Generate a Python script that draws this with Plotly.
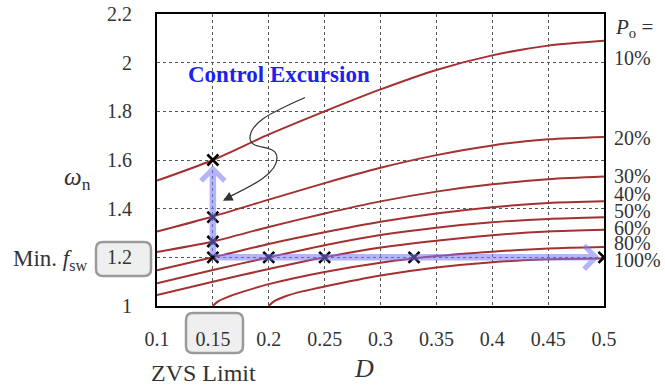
import plotly.graph_objects as go

# ---------------- data ----------------
D_FULL = [0.10, 0.15, 0.20, 0.25, 0.30, 0.35, 0.40, 0.45, 0.50]
wn_10 = [1.515, 1.60, 1.705, 1.80, 1.89, 1.97, 2.03, 2.07, 2.09]
wn_20 = [1.306, 1.368, 1.437, 1.505, 1.568, 1.62, 1.66, 1.685, 1.695]
wn_30 = [1.222, 1.265, 1.325, 1.38, 1.43, 1.47, 1.50, 1.521, 1.532]
wn_40 = [1.147, 1.20, 1.255, 1.303, 1.346, 1.38, 1.406, 1.423, 1.430]
wn_50 = [1.093, 1.148, 1.20, 1.25, 1.292, 1.322, 1.344, 1.358, 1.365]
wn_60 = [1.045, 1.10, 1.152, 1.20, 1.240, 1.268, 1.291, 1.306, 1.313]
D_80 = [0.15, 0.155, 0.165, 0.18, 0.20, 0.25, 0.30, 0.35, 0.40, 0.45, 0.50]
wn_80 = [1.0, 1.02, 1.04, 1.063, 1.09, 1.14, 1.178, 1.205, 1.223, 1.236, 1.242]
D_100 = [0.20, 0.205, 0.215, 0.23, 0.25, 0.30, 0.35, 0.40, 0.45, 0.50]
wn_100 = [1.0, 1.02, 1.04, 1.06, 1.08, 1.125, 1.158, 1.18, 1.192, 1.195]

curves = [
    (D_FULL, wn_10), (D_FULL, wn_20), (D_FULL, wn_30), (D_FULL, wn_40),
    (D_FULL, wn_50), (D_FULL, wn_60), (D_80, wn_80), (D_100, wn_100),
]

mark_D = [0.15, 0.15, 0.15, 0.15, 0.20, 0.25, 0.33, 0.50]
mark_wn = [1.60, 1.365, 1.265, 1.20, 1.20, 1.20, 1.20, 1.20]

x_ticks = [0.1, 0.15, 0.2, 0.25, 0.3, 0.35, 0.4, 0.45, 0.5]
x_ticktext = ["0.1", "0.15", "0.2", "0.25", "0.3", "0.35", "0.4", "0.45", "0.5"]
y_ticks = [1, 1.2, 1.4, 1.6, 1.8, 2, 2.2]
y_ticktext = ["1", "1.2", "1.4", "1.6", "1.8", "2", "2.2"]

po_labels = ["10%", "20%", "30%", "40%", "50%", "60%", "80%", "100%"]
po_label_y = [2.02, 1.69, 1.535, 1.461, 1.392, 1.322, 1.257, 1.188]

# ---------------- layout constants ----------------
W, H = 665, 389
ML, MR, MT, MB = 157, 61, 14, 83
PW, PH = W - ML - MR, H - MT - MB
SERIF = "Liberation Serif"
RED = "#a33131"
TXT = "#333333"


def px(x):
    return (x - ML) / PW


def py(y):
    return (H - MB - y) / PH


def rounded_box(x0, y0, x1, y1, r):
    pts = [
        ("M", [(x0 + r, y0)]), ("L", [(x1 - r, y0)]), ("Q", [(x1, y0), (x1, y0 + r)]),
        ("L", [(x1, y1 - r)]), ("Q", [(x1, y1), (x1 - r, y1)]), ("L", [(x0 + r, y1)]),
        ("Q", [(x0, y1), (x0, y1 - r)]), ("L", [(x0, y0 + r)]), ("Q", [(x0, y0), (x0 + r, y0)]),
    ]
    s = ""
    for cmd, ps in pts:
        s += cmd + " " + " ".join(f"{px(a):.5f},{py(b):.5f}" for a, b in ps) + " "
    return s + "Z"


fig = go.Figure()

for xs, ys in curves:
    fig.add_trace(go.Scatter(x=xs, y=ys, mode="lines",
                             line=dict(color=RED, width=2, shape="spline", smoothing=0.8),
                             hoverinfo="skip", showlegend=False))

fig.add_trace(go.Scatter(x=mark_D, y=mark_wn, mode="markers",
                         marker=dict(symbol="x-thin", size=11,
                                     line=dict(color="black", width=2.6)),
                         showlegend=False))

shapes = [
    dict(type="path", xref="paper", yref="paper", layer="below",
         path=rounded_box(96, 242, 151, 276, 7),
         fillcolor="#efefef", line=dict(color="#9a9a9a", width=2.5)),
    dict(type="path", xref="paper", yref="paper", layer="below",
         path=rounded_box(186, 313, 243, 353, 7),
         fillcolor="#efefef", line=dict(color="#9a9a9a", width=2.5)),
    # S-shaped pointer line
    dict(type="path", xref="x", yref="y",
         path="M 0.2324,1.857 C 0.2056,1.80 0.1832,1.759 0.1832,1.690 "
              "C 0.1832,1.637 0.2074,1.669 0.2074,1.608 "
              "C 0.2074,1.535 0.1787,1.482 0.1600,1.438",
         line=dict(color="#333333", width=1.2)),
]

annotations = [
    # blue control excursion arrows
    dict(x=0.15, y=1.578, ax=0.15, ay=1.2, xref="x", yref="y", axref="x", ayref="y",
         text="", showarrow=True, arrowhead=4, arrowwidth=6.5, arrowsize=0.7,
         arrowcolor="rgba(120,120,250,0.55)"),
    dict(x=0.496, y=1.2, ax=0.15, ay=1.2, xref="x", yref="y", axref="x", ayref="y",
         text="", showarrow=True, arrowhead=4, arrowwidth=6.5, arrowsize=0.7,
         arrowcolor="rgba(120,120,250,0.55)"),
    # head of the pointer
    dict(x=0.1591, y=1.433, ax=0.1653, ay=1.448, xref="x", yref="y", axref="x", ayref="y",
         text="", showarrow=True, arrowhead=2, arrowwidth=1.2, arrowsize=1.6,
         arrowcolor="#333333"),
    dict(x=px(279), y=py(75), xref="paper", yref="paper", text="<b>Control Excursion</b>",
         showarrow=False, font=dict(family=SERIF, size=23, color="#1f1ff0"),
         xanchor="center", yanchor="middle"),
    dict(x=px(613), y=py(28), xref="paper", yref="paper",
         text="<i>P</i><sub>o</sub> =", showarrow=False,
         font=dict(family=SERIF, size=21, color=TXT), xanchor="left", yanchor="middle"),
    dict(x=px(77), y=py(179), xref="paper", yref="paper",
         text="<i>ω</i><sub>n</sub>", showarrow=False,
         font=dict(family=SERIF, size=25, color=TXT), xanchor="center", yanchor="middle"),
    dict(x=px(89), y=py(260), xref="paper", yref="paper",
         text="Min. <i>f</i><sub>sw</sub>", showarrow=False,
         font=dict(family=SERIF, size=23, color=TXT), xanchor="right", yanchor="middle"),
    dict(x=px(203), y=py(373), xref="paper", yref="paper", text="ZVS Limit",
         showarrow=False, font=dict(family=SERIF, size=24, color=TXT),
         xanchor="center", yanchor="middle"),
    dict(x=px(364), y=py(368), xref="paper", yref="paper", text="<i>D</i>",
         showarrow=False, font=dict(family=SERIF, size=26, color=TXT),
         xanchor="center", yanchor="middle"),
]

for lab, yv in zip(po_labels, po_label_y):
    annotations.append(dict(x=px(612), y=yv, xref="paper", yref="y", text=lab,
                            showarrow=False, font=dict(family=SERIF, size=20, color=TXT),
                            xanchor="left", yanchor="middle"))

fig.update_layout(
    width=W, height=H, margin=dict(l=ML, r=MR, t=MT, b=MB, autoexpand=False),
    paper_bgcolor="white", plot_bgcolor="white", showlegend=False,
    shapes=shapes, annotations=annotations,
    font=dict(family=SERIF, color=TXT),
)

axis_common = dict(showline=True, mirror=True, linecolor="black", linewidth=2,
                   showgrid=True, gridcolor="#555555", gridwidth=1, griddash="3px,3px",
                   zeroline=False, ticks="", tickfont=dict(family=SERIF, size=20, color=TXT))

fig.update_xaxes(range=[0.1, 0.5], tickvals=x_ticks, ticktext=x_ticktext,
                 ticklabelstandoff=14, **axis_common)
fig.update_yaxes(range=[1, 2.2], tickvals=y_ticks, ticktext=y_ticktext,
                 ticklabelstandoff=19, **axis_common)

fig.write_html("out.html")
